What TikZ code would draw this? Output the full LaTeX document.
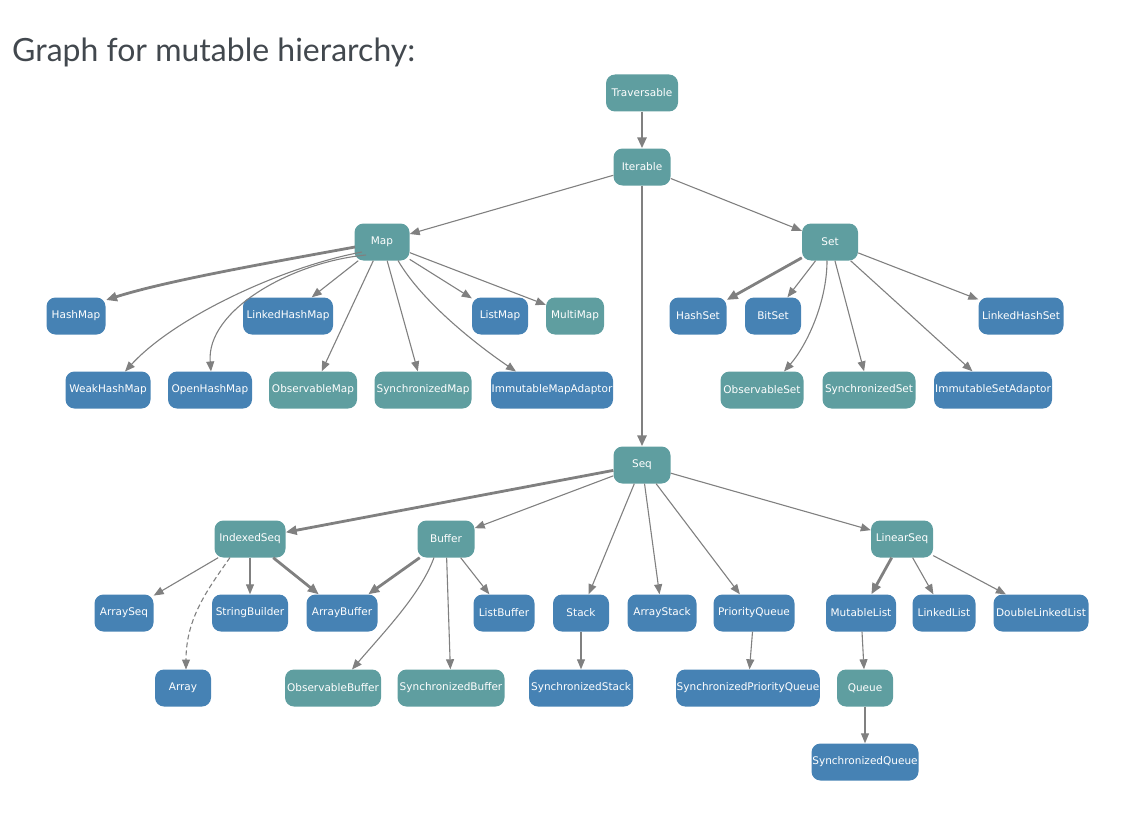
\documentclass[tikz,border=0pt]{standalone}
\usepackage{fontspec}
\setmainfont{DejaVu Sans}
\newfontfamily\titlefont{Lato}
\usetikzlibrary{arrows.meta,calc}
\definecolor{tealfill}{RGB}{95,158,160}
\definecolor{bluefill}{RGB}{70,130,180}
\definecolor{edgegray}{RGB}{128,128,128}
\definecolor{titlegray}{RGB}{66,72,78}
\begin{document}
\begin{tikzpicture}[x=1pt,y=-1pt,
  box/.style={rounded corners=9pt, minimum height=37pt, inner xsep=0.5pt, inner ysep=0pt,
              text=white, font=\fontsize{10.5}{12}\selectfont},
  trait/.style={box, fill=tealfill},
  klass/.style={box, fill=bluefill},
  link/.style={draw=edgegray, line width=1.1pt, -{Triangle[length=10pt,width=8pt]}},
  heavylink/.style={draw=edgegray, line width=2.8pt, -{Triangle[length=11pt,width=9pt]}},
  dashlink/.style={link, dashed, dash pattern=on 5pt off 3pt}
]
\useasboundingbox (0,0) rectangle (1147,824);

% heading
\node[anchor=base west, inner sep=0pt, text=titlegray, font=\titlefont\fontsize{32}{36}\selectfont]
  (heading) at (12,62) {Graph for mutable hierarchy:};

% root of the hierarchy
\node[trait, minimum width=72pt] (trav) at (642,93)  {Traversable};
\node[trait, minimum width=57pt] (iter) at (642,167) {Iterable};

% maps
\node[trait, minimum width=55pt] (map)   at (382,242) {Map};
\node[klass, minimum width=59pt] (hmap)  at (76,316)  {HashMap};
\node[klass, minimum width=90pt] (lhmap) at (288,316) {LinkedHashMap};
\node[klass, minimum width=56pt] (lmap)  at (500,316) {ListMap};
\node[trait, minimum width=58pt] (mmap)  at (575,316) {MultiMap};
\node[klass, minimum width=85pt] (whmap) at (108,390) {WeakHashMap};
\node[klass, minimum width=84pt] (ohmap) at (210,390) {OpenHashMap};
\node[trait, minimum width=88pt] (obmap) at (313,390) {ObservableMap};
\node[trait, minimum width=97pt] (symap) at (423,390) {SynchronizedMap};
\node[klass, minimum width=122pt] (immap) at (552,390) {ImmutableMapAdaptor};

% sets
\node[trait, minimum width=56pt] (set)   at (830,242)  {Set};
\node[klass, minimum width=57pt] (hset)  at (698,316)  {HashSet};
\node[klass, minimum width=56pt] (bset)  at (773,316)  {BitSet};
\node[klass, minimum width=85pt] (lhset) at (1021,316) {LinkedHashSet};
\node[trait, minimum width=83pt] (obset) at (762,390)  {ObservableSet};
\node[trait, minimum width=93pt] (syset) at (869,390)  {SynchronizedSet};
\node[klass, minimum width=118pt] (imset) at (993,390) {ImmutableSetAdaptor};

% sequences
\node[trait, minimum width=57pt] (seq)  at (642,465) {Seq};
\node[trait, minimum width=71pt] (iseq) at (250,539) {IndexedSeq};
\node[trait, minimum width=57pt] (buf)  at (446,539) {Buffer};
\node[trait, minimum width=62pt] (lseq) at (902,539) {LinearSeq};

\node[klass, minimum width=59pt] (aseq)  at (124,613)  {ArraySeq};
\node[klass, minimum width=76pt] (sb)    at (250,613)  {StringBuilder};
\node[klass, minimum width=71pt] (abuf)  at (342,613)  {ArrayBuffer};
\node[klass, minimum width=61pt] (lbuf)  at (504,613)  {ListBuffer};
\node[klass, minimum width=56pt] (stk)   at (581,613)  {Stack};
\node[klass, minimum width=69pt] (astk)  at (662,613)  {ArrayStack};
\node[klass, minimum width=81pt] (pq)    at (754,613)  {PriorityQueue};
\node[klass, minimum width=70pt] (mlist) at (861,613)  {MutableList};
\node[klass, minimum width=63pt] (llist) at (944,613)  {LinkedList};
\node[klass, minimum width=95pt] (dll)   at (1041,613) {DoubleLinkedList};

\node[klass, minimum width=56pt]  (arr)   at (183,688) {Array};
\node[trait, minimum width=96pt]  (obbuf) at (333,688) {ObservableBuffer};
\node[trait, minimum width=107pt] (sybuf) at (451,688) {SynchronizedBuffer};
\node[klass, minimum width=104pt] (systk) at (581,688) {SynchronizedStack};
\node[klass, minimum width=142pt] (sypq)  at (748,688) {SynchronizedPriorityQueue};
\node[trait, minimum width=56pt]  (que)   at (865,688) {Queue};
\node[klass, minimum width=107pt] (syque) at (865,762) {SynchronizedQueue};

% connectors: top levels
\draw[heavylink] (trav) -- (iter);
\draw[link] (iter) -- (map);
\draw[link] (iter) -- (set);
\draw[heavylink] (iter) -- (seq);

% connectors: maps
\draw[heavylink] ($(map)+(-27,5)$) .. controls ($(map)+(-120,22)$) and ($(hmap)+(90,-35)$) .. ($(hmap)+(30,-16)$);
\draw[link] ($(map)+(-20,10)$) .. controls ($(map)+(-100,25)$) and ($(whmap)+(67,-73)$) .. ($(whmap)+(17,-18.5)$);
\draw[link] ($(map)+(-16,13)$) .. controls ($(map)+(-90,20)$) and ($(ohmap)+(-4,-80)$) .. ($(ohmap)+(1,-18.5)$);
\draw[link] (map) -- (lhmap);
\draw[link] (map) -- (obmap);
\draw[link] (map) -- (symap);
\draw[link] ($(map)+(16,18.5)$) .. controls ($(map)+(40,60)$) and ($(immap)+(-75,-45)$) .. ($(immap)+(-36,-18.5)$);
\draw[link] (map) -- (lmap);
\draw[link] (map) -- (mmap);

% connectors: sets
\draw[heavylink] (set) -- (hset);
\draw[link] (set) -- (bset);
\draw[link] ($(set)+(-3,18.5)$) .. controls ($(set)+(-3,60)$) and ($(obset)+(45,-45)$) .. ($(obset)+(22,-18.5)$);
\draw[link] (set) -- (syset);
\draw[link] (set) -- (imset);
\draw[link] (set) -- (lhset);

% connectors: sequences
\draw[heavylink] (seq) -- (iseq);
\draw[link] (seq) -- (buf);
\draw[link] (seq) -- (stk);
\draw[link] (seq) -- (astk);
\draw[link] (seq) -- (pq);
\draw[link] (seq) -- (lseq);

\draw[link] (iseq) -- (aseq);
\draw[dashlink] ($(iseq)+(-20,18.5)$) .. controls ($(iseq)+(-42,50)$) and ($(arr)+(3,-70)$) .. ($(arr)+(3,-18.5)$);
\draw[link] (iseq) -- (sb);
\draw[heavylink] (iseq) -- (abuf);

\draw[heavylink] (buf) -- (abuf);
\draw[link] ($(buf)+(-12,18.5)$) .. controls ($(buf)+(-25,55)$) and ($(obbuf)+(50,-55)$) .. ($(obbuf)+(19,-18.5)$);
\draw[link] (buf) -- (sybuf);
\draw[link] (buf) -- (lbuf);

\draw[link] (stk) -- (systk);
\draw[link] (pq) -- (sypq);

\draw[heavylink] (lseq) -- (mlist);
\draw[link] (lseq) -- (llist);
\draw[link] (lseq) -- (dll);
\draw[link] (mlist) -- (que);
\draw[link] (que) -- (syque);
\end{tikzpicture}
\end{document}
